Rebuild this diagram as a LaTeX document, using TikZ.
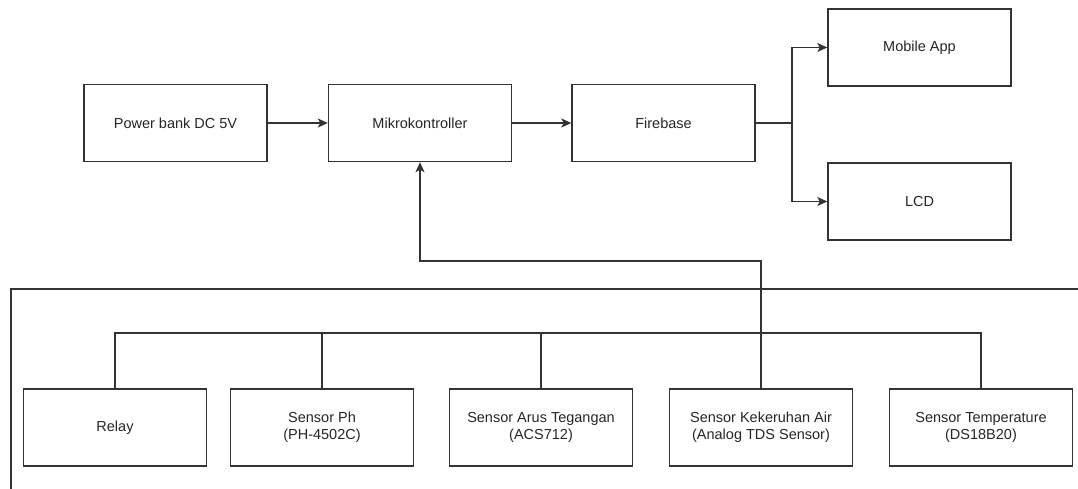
\documentclass[tikz,border=0pt]{standalone}
\usepackage{fontspec}
\setmainfont{Liberation Sans}
\usetikzlibrary{arrows.meta}
\definecolor{linecol}{HTML}{333333}
\definecolor{textcol}{HTML}{262626}
\begin{document}
\begin{tikzpicture}[x=1pt,y=-1pt,
  blk/.style={draw=linecol, line width=1.4pt, minimum width=183pt, minimum height=77pt, inner sep=0pt, align=center, font=\fontsize{14.5}{17}\selectfont, text=textcol},
  conn/.style={draw=linecol, line width=1.4pt},
  arr/.style={conn, -{Stealth[length=10pt,width=9pt,inset=2.5pt]}}
]
\useasboundingbox (0,0) rectangle (1078,488);
\clip (0,0) rectangle (1078,488);

% outer frame (partially visible)
\draw[conn] (11,520) -- (11,289) -- (1100,289);

% top row
\node[blk] (pb)  at (175.5,123) {Power bank DC 5V};
\node[blk] (mk)  at (420,123) {Mikrokontroller};
\node[blk] (fb)  at (663.5,123) {Firebase};
\node[blk] (ma)  at (919.5,47.5) {Mobile App};
\node[blk] (lcd) at (919.5,201.5) {LCD};

% bottom row
\node[blk] (relay) at (115,427.5) {Relay};
\node[blk] (ph)    at (322,427.5) {Sensor Ph\\(PH-4502C)};
\node[blk] (arus)  at (541,427.5) {Sensor Arus Tegangan\\(ACS712)};
\node[blk] (kek)   at (761,427.5) {Sensor Kekeruhan Air\\(Analog TDS Sensor)};
\node[blk] (temp)  at (981,427.5) {Sensor Temperature\\(DS18B20)};

% top connections
\draw[arr] (pb) -- (mk);
\draw[arr] (mk) -- (fb);
\coordinate (br) at (792,123);
\draw[conn] (fb.east) -- (br);
\draw[arr] (br) |- (ma.west);
\draw[arr] (br) |- (lcd.west);

% sensor bus
\coordinate (bus) at (0,333);
\draw[conn] (relay.north) -- (relay.north |- bus) -- (temp.north |- bus) -- (temp.north);
\draw[conn] (ph.north) -- (ph.north |- bus);
\draw[conn] (arus.north) -- (arus.north |- bus);

% feedback to microcontroller
\coordinate (fbk) at (0,261);
\draw[arr] (kek.north) -- (kek.north |- fbk) -| (mk.south);
\end{tikzpicture}
\end{document}
